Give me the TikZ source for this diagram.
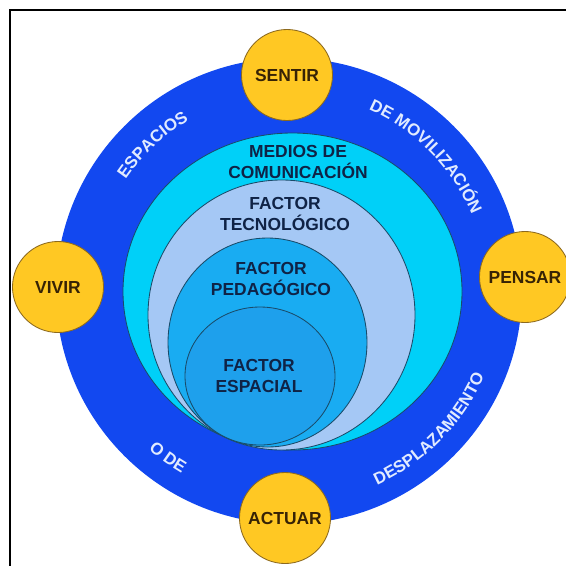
\documentclass[tikz,border=0pt]{standalone}
\usepackage{fontspec}
\setmainfont{Liberation Sans}
\usetikzlibrary{decorations.text}
\definecolor{ringblue}{RGB}{18,72,240}
\definecolor{mediacyan}{RGB}{0,208,248}
\definecolor{techblue}{RGB}{165,200,245}
\definecolor{pedablue}{RGB}{25,172,242}
\definecolor{spaceblue}{RGB}{30,160,236}
\definecolor{actyellow}{RGB}{255,200,35}
\definecolor{actedge}{RGB}{140,105,30}
\definecolor{layeredge}{RGB}{25,75,105}
\definecolor{layertext}{RGB}{15,35,70}
\definecolor{acttext}{RGB}{55,35,5}
\definecolor{ringtext}{RGB}{225,235,255}

\begin{document}
\begin{tikzpicture}[x=0.25mm,y=0.25mm,
            layer/.style={draw=layeredge,line width=0.6pt},
            actcircle/.style={circle,draw=actedge,fill=actyellow,line width=0.6pt,minimum size=22.75mm,inner sep=0pt,font=\fontsize{12.4}{14}\selectfont\bfseries,text=acttext},
            layertxt/.style={align=center,font=\fontsize{12.4}{14.5}\selectfont\bfseries,text=layertext},
            ringlabel/.style={decorate,decoration={text along path,text align=center,text={|\fontsize{12}{14}\selectfont\bfseries\color{ringtext}|#1}}}]
            \clip (-289,-274) rectangle (277,291);
            \draw[line width=0.6mm] (-279,-300) -- (-279,281) -- (300,281);

            \fill[ringblue] (0,0) circle[radius=233];
            \filldraw[layer,fill=mediacyan] (3.5,-0.5) ellipse[x radius=169.5,y radius=158.5];
            \filldraw[layer,fill=techblue] (-7.5,-24) ellipse[x radius=133.5,y radius=135];
            \filldraw[layer,fill=pedablue] (-21.5,-51.5) ellipse[x radius=99.5,y radius=104.5];
            \filldraw[layer,fill=spaceblue] (-29,-85) ellipse[x radius=75,y radius=69];

            \node[layertxt] (medios) at (9,129) {MEDIOS DE\\COMUNICACIÓN};
            \node[layertxt] (tecno) at (-4,77) {FACTOR\\TECNOLÓGICO};
            \node[layertxt] (peda) at (-18,12) {FACTOR\\PEDAGÓGICO};
            \node[layertxt] (espacial) at (-30,-85) {FACTOR\\ESPACIAL};

            \path[ringlabel={ESPACIOS}] (163:198) arc[start angle=163,end angle=103,radius=198];
            \path[ringlabel={DE MOVILIZACIÓN}] (85:198) arc[start angle=85,end angle=4,radius=198];
            \path[ringlabel={O DE}] (214:212) arc[start angle=214,end angle=254,radius=212];
            \path[ringlabel={DESPLAZAMIENTO}] (-85:213) arc[start angle=-85,end angle=-4,radius=213];

            \node[actcircle] (sentir) at (-2,216) {SENTIR};
            \node[actcircle] (actuar) at (-4,-227) {ACTUAR};
            \node[actcircle] (vivir) at (-231,4) {VIVIR};
            \node[actcircle] (pensar) at (236,14) {PENSAR};
        \end{tikzpicture}
\end{document}
